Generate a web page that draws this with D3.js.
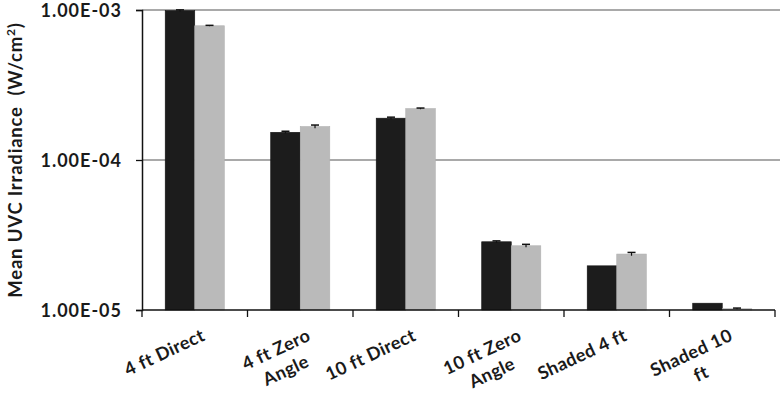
<!DOCTYPE html>
<html>
<head>
<meta charset="utf-8">
<script src="https://cdn.jsdelivr.net/npm/d3@7"></script>
<style>
  body { margin: 0; background: #fff; }
  text { font-family: Lato, "Open Sans", sans-serif; font-weight: bold; fill: #1a1a1a; }
</style>
</head>
<body>
<svg width="780" height="402"></svg>
<script>
// chart data
var categories = ["4 ft Direct", "4 ft Zero\nAngle", "10 ft Direct", "10 ft Zero\nAngle", "Shaded 4 ft", "Shaded 10\nft"];
var seriesNames = ["A", "B"];
var blackValues = [9.9e-4, 1.53e-4, 1.9e-4, 2.85e-5, 1.97e-5, 1.11e-5];
var grayValues  = [7.85e-4, 1.67e-4, 2.2e-4, 2.68e-5, 2.36e-5, 1.02e-5];
var blackErrors = [1.2e-5, 2.5e-6, 3e-6, 4e-7, 0, 0];
var grayErrors  = [5e-6, 4e-6, 2e-6, 6e-7, 6e-7, 1e-7];
var yTicks = [1e-5, 1e-4, 1e-3];
var yTickLabels = ["1.00E-05", "1.00E-04", "1.00E-03"];

var svg = d3.select("svg"),
    width = +svg.attr("width"),
    height = +svg.attr("height");

var margin = {left: 142, top: 10, right: 5, bottom: 92};

var x = d3.scaleBand()
    .domain(categories)
    .range([margin.left, width - margin.right])
    .paddingInner(0.44)
    .paddingOuter(0.22);

var x1 = d3.scaleBand()
    .domain(seriesNames)
    .range([0, x.bandwidth()]);

var y = d3.scaleLog()
    .domain([1e-5, 1e-3])
    .range([height - margin.bottom, margin.top]);

var colors = {A: "#1c1c1c", B: "#bababa"};

// gridlines
svg.append("g")
  .selectAll("line")
  .data(yTicks.slice(1))
  .enter().append("line")
    .attr("x1", margin.left)
    .attr("x2", width)
    .attr("y1", function(d) { return y(d); })
    .attr("y2", function(d) { return y(d); })
    .attr("stroke", "#8c8c8c")
    .attr("stroke-width", 1.3);

var rows = categories.map(function(c, i) {
  return [
    {cat: c, key: "A", v: blackValues[i], e: blackErrors[i]},
    {cat: c, key: "B", v: grayValues[i], e: grayErrors[i]}
  ];
});
var bars = [].concat.apply([], rows);

var barG = svg.append("g");
barG.selectAll("rect")
  .data(bars)
  .enter().append("rect")
    .attr("x", function(d) { return x(d.cat) + x1(d.key); })
    .attr("width", x1.bandwidth())
    .attr("y", function(d) { return y(d.v); })
    .attr("height", function(d) { return y(1e-5) - y(d.v); })
    .attr("fill", function(d) { return colors[d.key]; })
    .attr("stroke", function(d) { return d.key == "A" ? "#111" : "#b0b0b0"; })
    .attr("stroke-width", 0.6);

// error bars
var err = barG.selectAll("g.err")
  .data(bars.filter(function(d) { return d.e > 0; }))
  .enter().append("g")
    .attr("class", "err")
    .attr("transform", function(d) {
      return "translate(" + (x(d.cat) + x1(d.key) + x1.bandwidth() / 2) + ",0)";
    });
err.append("line")
    .attr("y1", function(d) { return y(d.v + d.e); })
    .attr("y2", function(d) { return y(d.v - d.e); })
    .attr("stroke", "#111").attr("stroke-width", 1.2);
err.append("line")
    .attr("x1", -4).attr("x2", 4)
    .attr("y1", function(d) { return y(d.v + d.e); })
    .attr("y2", function(d) { return y(d.v + d.e); })
    .attr("stroke", "#111").attr("stroke-width", 1.5);

// y axis
var yAxis = svg.append("g")
    .attr("transform", "translate(" + margin.left + ",0)")
    .call(d3.axisLeft(y).tickValues(yTicks)
      .tickFormat(function(d, i) { return yTickLabels[i]; })
      .tickSize(6).tickPadding(14));
yAxis.select(".domain").attr("stroke", "#111").attr("stroke-width", 1.5);
yAxis.selectAll(".tick line").attr("stroke", "#111").attr("stroke-width", 1.3);
yAxis.selectAll(".tick text")
    .style("font-size", "18px")
    .style("letter-spacing", "1px")
    .attr("dy", "0.34em")
    .attr("font-family", null)
    .attr("fill", "#1a1a1a");

// x axis line + ticks between categories
var xTickPos = [margin.left].concat(categories.map(function(c) {
  return x(c) + x.bandwidth() + x.step() * x.paddingInner() / 2;
}));
svg.append("line")
    .attr("x1", margin.left).attr("x2", xTickPos[xTickPos.length - 1])
    .attr("y1", y(1e-5)).attr("y2", y(1e-5))
    .attr("stroke", "#111").attr("stroke-width", 1.5);
svg.append("g").selectAll("line")
  .data(xTickPos)
  .enter().append("line")
    .attr("x1", function(d) { return d; })
    .attr("x2", function(d) { return d; })
    .attr("y1", y(1e-5))
    .attr("y2", y(1e-5) + 7)
    .attr("stroke", "#111").attr("stroke-width", 1.3);

// rotated category labels
var lab = svg.append("g").selectAll("g")
  .data(categories)
  .enter().append("g")
    .attr("transform", function(d) {
      return "translate(" + (x(d) + x.bandwidth() / 2 + 6) + "," + (y(1e-5) + 18) + ") rotate(-25)";
    });
lab.each(function(d) {
  var g = d3.select(this);
  var lines = d.split("\n");
  var t = g.selectAll("text")
    .data(lines)
    .enter().append("text")
      .style("font-size", "18px")
      .style("letter-spacing", "0.4px")
      .attr("text-anchor", "middle")
      .attr("y", function(l, i) { return 13 + i * 23; })
      .text(function(l) { return l; });
  var w = 0;
  t.each(function() { w = Math.max(w, this.getComputedTextLength()); });
  t.attr("x", -w / 2);
});

// y axis title
var title = svg.append("text")
    .attr("transform", "translate(22," + ((margin.top + y(1e-5)) / 2) + ") rotate(-90)")
    .attr("text-anchor", "middle")
    .style("font-size", "18.5px")
    .style("letter-spacing", "0.8px");
title.append("tspan").text("Mean UVC Irradiance\u00a0 (W/cm");
title.append("tspan").attr("dy", -7).style("font-size", "12px").text("2");
title.append("tspan").attr("dy", 7).text(")");
</script>
</body>
</html>
